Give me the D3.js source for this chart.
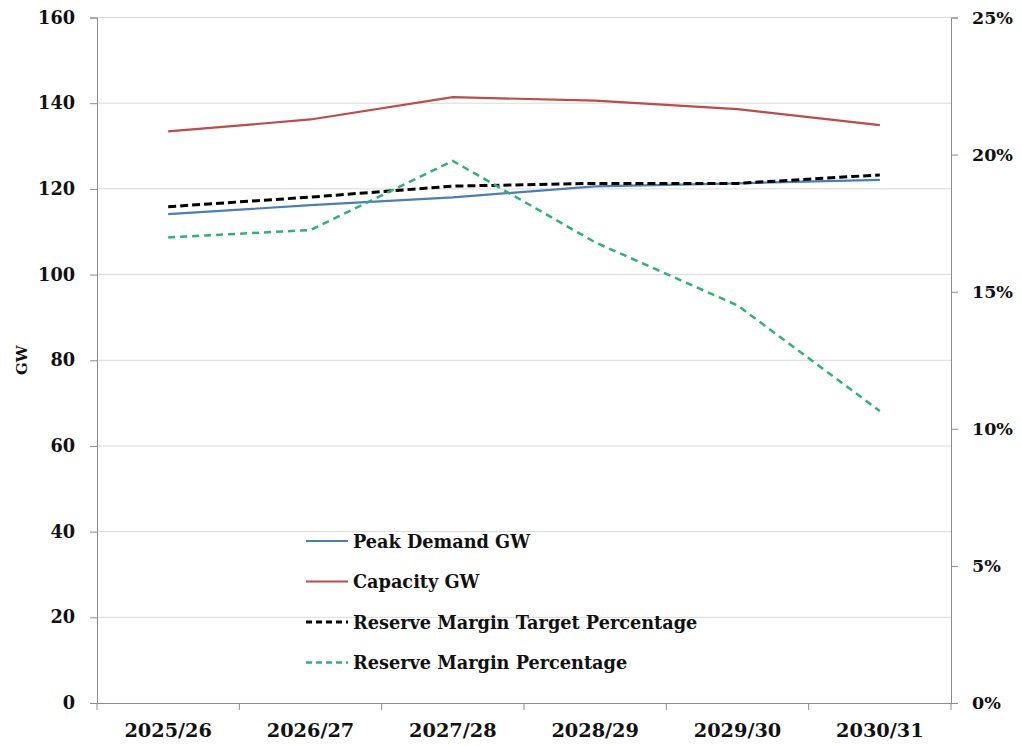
<!DOCTYPE html>
<html><head><meta charset="utf-8">
<script src="https://cdn.jsdelivr.net/npm/d3@7"></script>
<style>
body{margin:0;background:#fff;}
text{font-family:"DejaVu Serif",serif;font-weight:bold;fill:#111;}
</style></head>
<body>
<svg id="c" width="1022" height="746"></svg>
<script>
const categories = ["2025/26","2026/27","2027/28","2028/29","2029/30","2030/31"];
const peakDemandGW = [114.1,116.2,118.0,120.6,121.3,122.1];
const capacityGW = [133.4,136.2,141.4,140.6,138.6,134.9];
const reserveTargetPct = [18.1,18.45,18.85,18.95,18.95,19.26];
const reserveMarginPct = [16.98,17.25,19.77,16.8,14.5,10.65];
const leftTicks = [0,20,40,60,80,100,120,140,160];
const rightTicks = [0,5,10,15,20,25];
const legendLabels = ["Peak Demand GW","Capacity GW","Reserve Margin Target Percentage","Reserve Margin Percentage"];

const svg = d3.select("#c");
const L=97, R=951, T=17.5, B=703;
const x = d3.scaleBand().domain(categories).range([L,R]);
const xc = d => x(d)+x.bandwidth()/2;
const yL = d3.scaleLinear().domain([0,160]).range([B,T]);
const yR = d3.scaleLinear().domain([0,25]).range([B,T]);

// gridlines
svg.append("g").selectAll("line").data(leftTicks.filter(t=>t>0)).join("line")
  .attr("x1",L).attr("x2",R).attr("y1",d=>yL(d)).attr("y2",d=>yL(d))
  .attr("stroke","#d9d9d9").attr("stroke-width",1);

// left axis
const gl = svg.append("g").attr("transform",`translate(${L},0)`)
  .call(d3.axisLeft(yL).tickValues(leftTicks).tickSize(7).tickPadding(15));
gl.select(".domain").attr("stroke","#8c8c8c");
gl.selectAll(".tick line").attr("stroke","#8c8c8c");
gl.selectAll("text").style("font-size","17.7px").attr("font-family",null).attr("fill","#111");

// right axis
const gr = svg.append("g").attr("transform",`translate(${R},0)`)
  .call(d3.axisRight(yR).tickValues(rightTicks).tickFormat(d=>d+"%").tickSize(7).tickPadding(14));
gr.select(".domain").attr("stroke","#8c8c8c");
gr.selectAll(".tick line").attr("stroke","#8c8c8c");
gr.selectAll("text").style("font-size","17.5px").attr("font-family",null).attr("fill","#111");

// bottom axis
const gb = svg.append("g").attr("transform",`translate(0,${B})`)
  .call(d3.axisBottom(x).tickSize(0).tickPadding(20));
gb.select(".domain").attr("stroke","#8c8c8c");
gb.selectAll("text").style("font-size","19.3px").attr("font-family",null).attr("fill","#111");
// category separators
svg.append("g").selectAll("line").data(categories.concat(["end"])).join("line")
  .attr("x1",(d,i)=>L+i*x.bandwidth()).attr("x2",(d,i)=>L+i*x.bandwidth())
  .attr("y1",B).attr("y2",B+7).attr("stroke","#8c8c8c");

// axis title
svg.append("text").attr("transform",`translate(27,${(T+B)/2}) rotate(-90)`)
  .attr("text-anchor","middle").style("font-size","15px").text("GW");

const lineL = d3.line().x((d,i)=>xc(categories[i])).y(d=>yL(d));
const lineR = d3.line().x((d,i)=>xc(categories[i])).y(d=>yR(d));

const styles = [
  {color:"#4a7ebb",w:2.2,dash:null},
  {color:"#be4b48",w:2.2,dash:null},
  {color:"#000000",w:3,dash:"8,4"},
  {color:"#2fb07a",w:2.5,dash:"7,5"}
];
const series = [
  {d:peakDemandGW,gen:lineL},
  {d:capacityGW,gen:lineL},
  {d:reserveTargetPct,gen:lineR},
  {d:reserveMarginPct,gen:lineR}
];
series.forEach((s,i)=>{
  svg.append("path").datum(s.d).attr("d",s.gen).attr("fill","none")
    .attr("stroke",styles[i].color).attr("stroke-width",styles[i].w)
    .attr("stroke-dasharray",styles[i].dash);
});

// legend
const lg = svg.append("g");
legendLabels.forEach((lab,i)=>{
  const yy = 541 + i*40.5;
  lg.append("line").attr("x1",306).attr("x2",348).attr("y1",yy).attr("y2",yy)
    .attr("stroke",styles[i].color).attr("stroke-width",styles[i].w)
    .attr("stroke-dasharray",styles[i].dash ? "6,4" : null);
  lg.append("text").attr("x",353).attr("y",yy+6.5).style("font-size","17.7px").text(lab);
});
</script>
</body></html>
